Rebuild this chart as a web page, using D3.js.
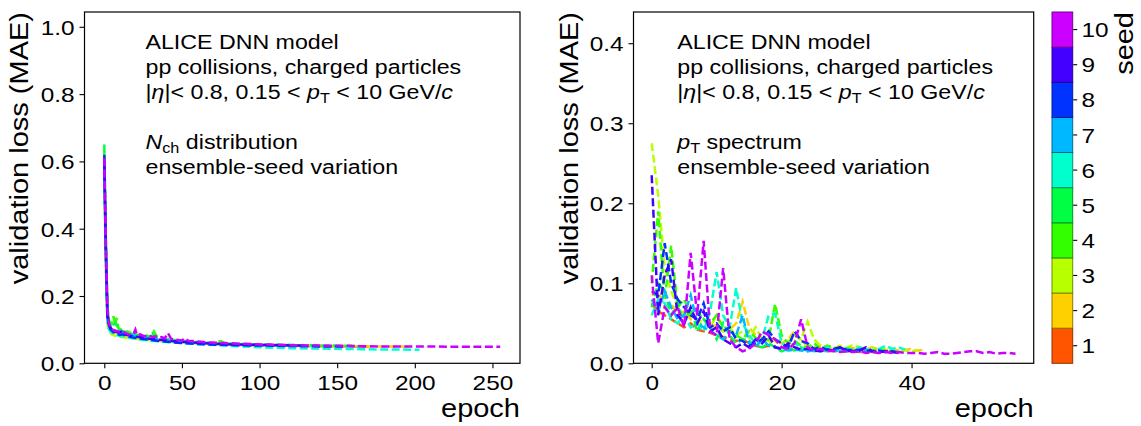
<!DOCTYPE html>
<html lang="en">
<head>
<meta charset="UTF-8">
<title>Validation loss vs epoch - ensemble-seed variation</title>
<script src="https://d3js.org/d3.v7.min.js"></script>
<style>
  body { margin: 0; background: #fff; }
  svg text { font-family: "Liberation Sans", Arial, sans-serif; fill: #000; }
</style>
</head>
<body>
<div id="chart"></div>
<script>
// seeds and their colours (colour bar)
const seeds = [1, 2, 3, 4, 5, 6, 7, 8, 9, 10];
const seedColors = ["#ff5500", "#ffd000", "#b8ff00", "#33ff00", "#00ff44",
                    "#00ffcc", "#00b8ff", "#0033ff", "#4400ff", "#cc00ff"];

// left panel: N_ch distribution, [epoch, loss]
const nchLoss = [
  [[0,0.58],[1,0.33],[2,0.15],[3,0.115],[4,0.1],[6,0.094],[8,0.09],[10,0.086],[13,0.083],[16,0.08],[19,0.082],[22,0.076],[26,0.073],[30,0.071],[35,0.068],[40,0.066],[46,0.064],[52,0.062],[60,0.06],[70,0.058],[80,0.056],[95,0.054],[110,0.053],[125,0.052],[140,0.051],[155,0.05],[172,0.049]],
  [[0,0.56],[1,0.3],[2,0.13],[3,0.105],[5,0.095],[7,0.09],[9,0.092],[12,0.085],[15,0.082],[18,0.079],[21,0.083],[24,0.075],[28,0.072],[33,0.07],[38,0.068],[44,0.065],[50,0.063],[58,0.061],[66,0.059],[75,0.057],[88,0.055],[100,0.054],[115,0.053],[130,0.052],[150,0.051],[170,0.05],[185,0.05],[198,0.049]],
  [[0,0.57],[1,0.31],[2,0.12],[3,0.095],[5,0.085],[7,0.082],[10,0.079],[13,0.077],[16,0.075],[20,0.073],[24,0.071],[28,0.069],[33,0.067],[40,0.065],[48,0.062],[56,0.06],[65,0.058],[75,0.056],[90,0.054],[105,0.053],[120,0.052],[135,0.051],[150,0.05]],
  [[0,0.63],[1,0.36],[2,0.16],[3,0.125],[4,0.11],[5,0.12],[6,0.14],[7,0.115],[8,0.135],[9,0.105],[11,0.1],[13,0.092],[15,0.095],[18,0.088],[21,0.085],[24,0.08],[27,0.083],[30,0.078],[32,0.095],[34,0.078],[38,0.074],[42,0.071],[47,0.068],[52,0.066],[58,0.064],[64,0.062],[70,0.06],[75,0.066],[78,0.059],[85,0.058],[95,0.056],[110,0.055],[125,0.054],[140,0.053],[160,0.052]],
  [[0,0.65],[1,0.38],[2,0.17],[3,0.13],[4,0.115],[5,0.11],[7,0.12],[9,0.105],[11,0.098],[13,0.094],[16,0.09],[19,0.086],[22,0.083],[25,0.08],[28,0.078],[31,0.09],[33,0.076],[37,0.073],[42,0.07],[48,0.067],[55,0.064],[62,0.062],[70,0.06],[80,0.058],[95,0.056],[110,0.055],[125,0.054],[140,0.053]],
  [[0,0.55],[1,0.29],[2,0.12],[3,0.1],[5,0.09],[7,0.085],[10,0.082],[13,0.079],[16,0.076],[20,0.073],[24,0.07],[28,0.068],[33,0.066],[38,0.064],[44,0.062],[50,0.06],[57,0.058],[64,0.056],[72,0.054],[80,0.052],[90,0.05],[100,0.048],[110,0.046],[120,0.045],[135,0.044],[150,0.043],[165,0.042],[180,0.041],[192,0.041],[203,0.04]],
  [[0,0.59],[1,0.34],[2,0.14],[3,0.11],[5,0.1],[7,0.094],[9,0.097],[11,0.09],[14,0.087],[17,0.084],[20,0.081],[23,0.078],[26,0.08],[29,0.075],[33,0.072],[38,0.07],[43,0.067],[49,0.065],[55,0.063],[62,0.061],[70,0.059],[80,0.057],[92,0.055],[105,0.054],[120,0.053],[135,0.052],[150,0.051],[165,0.05]],
  [[0,0.62],[1,0.35],[2,0.15],[3,0.115],[4,0.1],[6,0.092],[8,0.088],[10,0.084],[12,0.086],[15,0.08],[18,0.077],[21,0.075],[25,0.072],[29,0.07],[34,0.067],[39,0.065],[45,0.062],[51,0.06],[58,0.058],[66,0.056],[75,0.055],[85,0.054],[98,0.053],[112,0.052],[126,0.051],[140,0.05],[155,0.05]],
  [[0,0.6],[1,0.33],[2,0.14],[3,0.112],[5,0.1],[7,0.095],[9,0.091],[11,0.094],[13,0.086],[16,0.083],[19,0.08],[22,0.078],[25,0.076],[29,0.073],[33,0.071],[38,0.069],[43,0.066],[49,0.064],[56,0.062],[63,0.06],[72,0.058],[82,0.056],[95,0.055],[108,0.054],[120,0.053],[130,0.052]],
  [[0,0.61],[1,0.36],[2,0.16],[3,0.12],[4,0.105],[5,0.1],[7,0.098],[9,0.094],[11,0.09],[13,0.092],[15,0.087],[17,0.085],[19,0.09],[20,0.1],[21,0.084],[23,0.086],[25,0.082],[27,0.08],[29,0.083],[31,0.078],[33,0.08],[35,0.076],[37,0.078],[39,0.074],[41,0.09],[43,0.073],[45,0.071],[48,0.069],[50,0.068],[52,0.075],[54,0.067],[57,0.066],[60,0.065],[64,0.063],[68,0.062],[73,0.061],[78,0.06],[84,0.059],[90,0.058],[96,0.057],[102,0.056],[110,0.055],[118,0.054],[126,0.053],[135,0.053],[145,0.052],[155,0.052],[165,0.051],[180,0.05],[200,0.05],[220,0.0495],[240,0.0495],[255,0.0495]]
];

// right panel: pT spectrum, one loss value per epoch (index = epoch)
const ptLoss = [
  [0.075,0.065,0.06,0.055,0.05,0.045,0.05,0.042,0.04,0.038,0.035,0.033,0.03,0.028,0.03,0.025,0.022,0.02,0.022,0.02,0.018,0.019,0.017,0.018,0.016,0.017,0.016,0.016,0.015,0.016,0.015,0.015,0.014,0.015,0.014],
  [0.085,0.09,0.07,0.075,0.06,0.065,0.055,0.05,0.055,0.045,0.048,0.04,0.042,0.05,0.077,0.045,0.035,0.03,0.032,0.028,0.025,0.03,0.04,0.028,0.022,0.02,0.022,0.019,0.018,0.02,0.018,0.019,0.017,0.018,0.02,0.017,0.016,0.018,0.016,0.017,0.018,0.016,0.017],
  [0.275,0.21,0.12,0.09,0.07,0.06,0.065,0.05,0.055,0.045,0.06,0.04,0.045,0.035,0.04,0.032,0.045,0.03,0.028,0.025,0.03,0.027,0.035,0.03,0.052,0.03,0.022,0.02,0.018,0.022,0.019,0.023,0.02,0.018,0.019,0.017,0.018,0.016,0.017,0.016,0.015,0.016],
  [0.1,0.19,0.08,0.147,0.07,0.08,0.06,0.065,0.055,0.05,0.06,0.045,0.04,0.035,0.03,0.04,0.032,0.028,0.03,0.074,0.035,0.025,0.028,0.022,0.02,0.025,0.018,0.022,0.02,0.018,0.019,0.017,0.018,0.017,0.016,0.017,0.016],
  [0.07,0.1,0.09,0.06,0.075,0.05,0.07,0.04,0.055,0.045,0.03,0.05,0.035,0.025,0.03,0.028,0.022,0.02,0.025,0.02,0.015,0.018,0.016,0.02,0.017,0.015,0.016,0.015,0.017,0.015,0.016,0.015],
  [0.06,0.08,0.075,0.055,0.05,0.06,0.045,0.05,0.04,0.065,0.114,0.06,0.045,0.094,0.05,0.035,0.025,0.03,0.06,0.062,0.025,0.02,0.025,0.02,0.015,0.018,0.016,0.02,0.017,0.016,0.018,0.016,0.02,0.017,0.016,0.018,0.022,0.018,0.02,0.017],
  [0.08,0.065,0.09,0.07,0.055,0.06,0.085,0.05,0.045,0.04,0.035,0.03,0.04,0.035,0.06,0.025,0.02,0.03,0.022,0.02,0.018,0.016,0.017,0.016,0.015,0.016,0.015,0.017,0.015,0.016,0.015,0.016,0.015,0.016,0.015],
  [0.09,0.085,0.15,0.1,0.08,0.07,0.06,0.055,0.075,0.045,0.05,0.04,0.045,0.03,0.028,0.022,0.025,0.03,0.04,0.03,0.025,0.02,0.04,0.028,0.025,0.018,0.02,0.017,0.018,0.02,0.017,0.016,0.017,0.016,0.015,0.016,0.014,0.015,0.014],
  [0.235,0.06,0.11,0.13,0.06,0.05,0.07,0.05,0.065,0.04,0.045,0.03,0.025,0.02,0.025,0.02,0.03,0.025,0.035,0.02,0.018,0.025,0.02,0.017,0.018,0.016,0.015,0.017,0.016,0.02,0.016,0.015,0.016,0.02,0.015,0.014,0.015,0.014,0.013],
  [0.11,0.025,0.07,0.06,0.07,0.045,0.138,0.06,0.153,0.04,0.035,0.119,0.03,0.02,0.015,0.018,0.025,0.04,0.035,0.03,0.02,0.018,0.025,0.055,0.02,0.016,0.018,0.015,0.016,0.014,0.015,0.014,0.015,0.013,0.014,0.013,0.014,0.013,0.014,0.013,0.013,0.013,0.012,0.013,0.014,0.012,0.012,0.013,0.014,0.015,0.015,0.013,0.014,0.012,0.013,0.013,0.012]
];

const nchTicksX = [0, 50, 100, 150, 200, 250];
const nchTicksY = [0, 0.2, 0.4, 0.6, 0.8, 1.0];
const ptTicksX = [0, 20, 40];
const ptTicksY = [0, 0.1, 0.2, 0.3, 0.4];

const W = 1141, H = 426;
const SX = 1.16;   // glyphs in the reference are a little wider than Arial

const svg = d3.select("#chart").append("svg")
  .attr("width", W).attr("height", H);

// text helper: place, rotate and widen
function label(parent, x, y, size, anchor, rot) {
  return parent.append("text")
    .attr("transform", `translate(${x},${y}) rotate(${rot || 0}) scale(${SX},1)`)
    .attr("font-size", size)
    .attr("text-anchor", anchor);
}

function panel(cfg) {
  const x = d3.scaleLinear().domain(cfg.xDomain).range([cfg.left, cfg.right]);
  const y = d3.scaleLinear().domain(cfg.yDomain).range([cfg.bottom, cfg.top]);
  const g = svg.append("g");

  g.append("clipPath").attr("id", cfg.id + "-clip")
    .append("rect")
    .attr("x", cfg.left).attr("y", cfg.top)
    .attr("width", cfg.right - cfg.left).attr("height", cfg.bottom - cfg.top);

  const line = d3.line().x(d => x(d[0])).y(d => y(d[1]));
  g.append("g").attr("clip-path", `url(#${cfg.id}-clip)`)
    .selectAll("path")
    .data(cfg.series)
    .join("path")
    .attr("d", line)
    .attr("fill", "none")
    .attr("stroke", (d, i) => seedColors[i])
    .attr("stroke-width", 2.5)
    .attr("stroke-dasharray", "8,3.5");

  // axes
  const xAxis = g.append("g")
    .attr("transform", `translate(0,${cfg.bottom})`)
    .call(d3.axisBottom(x).tickValues(cfg.xTicks).tickSize(5).tickSizeOuter(0).tickFormat(d3.format("d")));
  const yAxis = g.append("g")
    .attr("transform", `translate(${cfg.left},0)`)
    .call(d3.axisLeft(y).tickValues(cfg.yTicks).tickSize(5).tickSizeOuter(0).tickFormat(d3.format(".1f")));
  [xAxis, yAxis].forEach(a => {
    a.select(".domain").remove();
    a.selectAll("line").attr("stroke", "#000").attr("stroke-width", 1.1);
    a.selectAll("text")
      .attr("font-size", 21)
      .attr("font-family", "'Liberation Sans', Arial, sans-serif")
      .attr("fill", "#000");
  });
  xAxis.selectAll("text").attr("y", 26.5).attr("dy", 0)
    .attr("transform", `scale(${SX},1)`);
  yAxis.selectAll("text").attr("x", -8.5).attr("dy", "0.36em")
    .attr("transform", `scale(${SX},1)`);

  g.append("rect")
    .attr("x", cfg.left).attr("y", cfg.top)
    .attr("width", cfg.right - cfg.left).attr("height", cfg.bottom - cfg.top)
    .attr("fill", "none").attr("stroke", "#000").attr("stroke-width", 1.2);

  // axis titles
  label(g, cfg.right, 417, 25, "end").text("epoch");
  label(g, cfg.yLabelX, cfg.top, 25, "end", -90).text("validation loss (MAE)");

  // annotation block
  const tx = cfg.textX, fs = 20;
  label(g, tx, 48.5, fs, "start").text("ALICE DNN model");
  label(g, tx, 73.5, fs, "start").text("pp collisions, charged particles");
  const l3 = label(g, tx, 98.5, fs, "start");
  l3.append("tspan").text("|");
  l3.append("tspan").attr("font-style", "italic").text("η");
  l3.append("tspan").text("|< 0.8, 0.15 < ");
  l3.append("tspan").attr("font-style", "italic").text("p");
  l3.append("tspan").attr("font-size", 14).attr("dy", 4.5).text("T");
  l3.append("tspan").attr("dy", -4.5).text(" < 10 GeV/");
  l3.append("tspan").attr("font-style", "italic").text("c");

  const l4 = label(g, tx, 148.5, fs, "start");
  l4.append("tspan").attr("font-style", "italic").text(cfg.obsMain);
  l4.append("tspan").attr("font-size", 14).attr("dy", 4.5).text(cfg.obsSub);
  l4.append("tspan").attr("dy", -4.5).text(cfg.obsRest);
  label(g, tx, 173.5, fs, "start").text("ensemble-seed variation");
}

panel({
  id: "nch", left: 84.5, right: 520, top: 12, bottom: 363.3,
  xDomain: [-12.75, 267.75], yDomain: [0, 1.044],
  xTicks: nchTicksX, yTicks: nchTicksY,
  series: nchLoss, yLabelX: 27.5, textX: 145.5,
  obsMain: "N", obsSub: "ch", obsRest: " distribution"
});

panel({
  id: "pt", left: 633.5, right: 1033.7, top: 12, bottom: 363.3,
  xDomain: [-2.8, 58.8], yDomain: [0, 0.439],
  xTicks: ptTicksX, yTicks: ptTicksY,
  series: ptLoss.map(s => s.map((v, i) => [i, v])), yLabelX: 578, textX: 677.3,
  obsMain: "p", obsSub: "T", obsRest: " spectrum"
});

// colour bar (one cell per seed)
const cb = svg.append("g");
const cbY = d3.scaleBand().domain(seeds.slice().reverse()).range([12, 363.3]);
const cbLeft = 1052, cbRight = 1072.7;
cb.selectAll("rect")
  .data(seeds)
  .join("rect")
  .attr("x", cbLeft).attr("y", d => cbY(d))
  .attr("width", cbRight - cbLeft).attr("height", cbY.bandwidth())
  .attr("fill", (d, i) => seedColors[i])
  .attr("stroke", (d, i) => d3.color(seedColors[i]).darker(1.6))
  .attr("stroke-width", 1);
const cbAxis = cb.append("g")
  .attr("transform", `translate(${cbRight},0)`)
  .call(d3.axisRight(cbY).tickSize(4).tickSizeOuter(0));
cbAxis.select(".domain").remove();
cbAxis.selectAll("line").attr("stroke", "#000").attr("stroke-width", 1.1)
  .attr("transform", "translate(0.5,0)");
cbAxis.selectAll("text")
  .attr("font-size", 21).attr("font-family", "'Liberation Sans', Arial, sans-serif")
  .attr("fill", "#000").attr("x", 7.5).attr("dy", "0.36em")
  .attr("transform", `scale(${SX},1)`);
label(cb, 1133, 12, 25, "end", -90).text("seed");
</script>
</body>
</html>
